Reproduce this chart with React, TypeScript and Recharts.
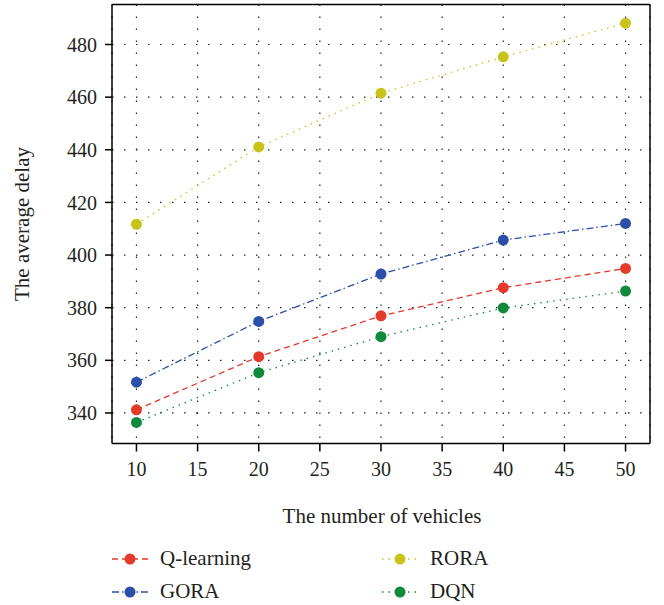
import React from 'react';
import { LineChart, Line, XAxis, YAxis, CartesianGrid, Legend, Label, ReferenceLine } from 'recharts';

const vehicles = [10, 20, 30, 40, 50];
const qLearning = [341.2, 361.4, 376.9, 387.6, 394.9];
const gora = [351.7, 374.8, 392.8, 405.7, 412.0];
const rora = [411.7, 441.1, 461.5, 475.3, 488.1];
const dqn = [336.4, 355.3, 369.0, 379.9, 386.3];

const xTicks = [10, 15, 20, 25, 30, 35, 40, 45, 50];
const yTicks = [340, 360, 380, 400, 420, 440, 460, 480];
const xDomain: [number, number] = [8, 52];
const yDomain: [number, number] = [328.4, 495.2];

const seriesInfo = [
  { key: 'qLearning', name: 'Q-learning', color: '#e43a2c', dash: '6 4' },
  { key: 'gora', name: 'GORA', color: '#2c4fa7', dash: '7 3 1.5 3' },
  { key: 'rora', name: 'RORA', color: '#c9c21b', dash: '1.5 5' },
  { key: 'dqn', name: 'DQN', color: '#0f8a3b', dash: '1.5 5' },
];

const data = vehicles.map((v, i) => ({
  vehicles: v,
  qLearning: qLearning[i],
  gora: gora[i],
  rora: rora[i],
  dqn: dqn[i],
}));

const FONT = '"Liberation Serif", "DejaVu Serif", serif';

const LegendContent = () => (
  <div
    style={{
      display: 'grid',
      gridTemplateColumns: '270px 270px',
      gridTemplateRows: '33px 33px',
      gridAutoFlow: 'column',
      paddingLeft: 112,
      paddingTop: 12,
      fontFamily: FONT,
      fontSize: 21,
      color: '#231f20',
    }}
  >
    {seriesInfo.map((s) => (
      <div key={s.key} style={{ display: 'flex', alignItems: 'center', height: 33 }}>
        <svg width={36} height={14} style={{ marginRight: 12 }}>
          <line x1={0} y1={7} x2={36} y2={7} stroke={s.color} strokeWidth={1.3} strokeDasharray={s.dash} />
          <circle cx={18} cy={7} r={5.5} fill={s.color} />
        </svg>
        <span>{s.name}</span>
      </div>
    ))}
  </div>
);

export default function App() {
  return (
    <div style={{ position: 'absolute', left: 0, top: 0 }}>
      <LineChart
        width={664}
        height={605}
        data={data}
        margin={{ top: 4.5, right: 14, left: 0, bottom: 0 }}
      >
        <CartesianGrid stroke="#222" strokeDasharray="1.5 10.5" strokeWidth={1.2} />
        <XAxis
          dataKey="vehicles"
          type="number"
          domain={xDomain}
          ticks={xTicks}
          allowDataOverflow
          height={86.5}
          tickSize={8}
          tickMargin={10}
          stroke="#000"
          strokeWidth={1.5}
          tick={{ fill: '#231f20', fontSize: 20, fontFamily: FONT }}
        >
          <Label
            content={() => (
              <text x={382} y={523} textAnchor="middle" fontSize={21} fontFamily={FONT} fill="#231f20">
                The number of vehicles
              </text>
            )}
          />
        </XAxis>
        <YAxis
          type="number"
          domain={yDomain}
          ticks={yTicks}
          allowDataOverflow
          width={112}
          tickSize={7}
          tickMargin={8}
          stroke="#000"
          strokeWidth={1.5}
          tick={{ fill: '#231f20', fontSize: 20, fontFamily: FONT }}
        >
          <Label
            content={() => (
              <text
                x={29}
                y={224}
                transform="rotate(-90, 29, 224)"
                textAnchor="middle"
                fontSize={21}
                fontFamily={FONT}
                fill="#231f20"
              >
                The average delay
              </text>
            )}
          />
        </YAxis>
        <ReferenceLine y={yDomain[1]} stroke="#000" strokeWidth={1.5} />
        <ReferenceLine x={xDomain[1]} stroke="#000" strokeWidth={1.5} />
        {seriesInfo.map((s) => (
          <Line
            key={s.key}
            dataKey={s.key}
            name={s.name}
            stroke={s.color}
            strokeWidth={1.3}
            strokeDasharray={s.dash}
            dot={{ r: 5.5, fill: s.color, stroke: s.color, strokeWidth: 0 }}
            activeDot={false}
            isAnimationActive={false}
          />
        ))}
        <Legend
          verticalAlign="bottom"
          content={LegendContent}
          wrapperStyle={{ width: 664, height: 75, left: 0 }}
        />
      </LineChart>
    </div>
  );
}
